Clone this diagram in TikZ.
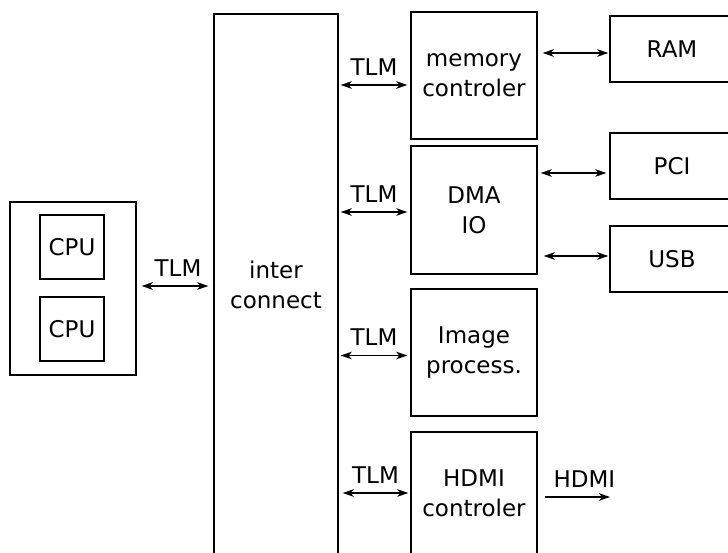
\documentclass[tikz,border=0pt]{standalone}
\usepackage{fontspec}
\setmainfont{DejaVu Sans}
\usetikzlibrary{arrows.meta,calc}
\begin{document}
\begin{tikzpicture}[x=1pt,y=-1pt,
  font=\fontsize{23}{30}\selectfont,
  box/.style={draw,line width=1.4pt,align=center,inner sep=0pt,
    minimum width=#1},
  box/.default=126pt,
  tip/.tip={Stealth[length=11pt,width=7.5pt,inset=3pt]},
  bi/.style={line width=1.3pt,tip-tip},
  uni/.style={line width=1.3pt,-tip},
  lbl/.style={above=9pt,inner sep=0pt,midway}]
\useasboundingbox (0,0) rectangle (728,553);
\clip (0,0) rectangle (728,553);

% processor cluster
\node[box,minimum height=173pt] (cpusys) at (73,288.5) {};
\node[box=64pt,minimum height=64pt] (cpu1) at (72,247) {CPU};
\node[box=64pt,minimum height=64pt] (cpu2) at (72,329) {CPU};

% interconnect bus
\node[box=124pt,minimum height=542pt] (ic) at (276,285) {inter\\connect};

% peripherals on the bus
\node[box,minimum height=127pt] (mem) at (474,75.5) {memory\\controler};
\node[box,minimum height=128pt] (dma) at (474,210) {DMA\\IO};
\node[box,minimum height=127pt] (img) at (474,352.5) {Image\\process.};
\node[box,minimum height=122pt] (hdmi) at (474,493) {HDMI\\controler};

% external devices
\node[box=124pt,minimum height=66pt] (ram) at (672,49) {RAM};
\node[box=124pt,minimum height=66pt] (pci) at (672,166) {PCI};
\node[box=124pt,minimum height=66pt] (usb) at (672,259) {USB};

% TLM links
\draw[bi] ($(cpusys.east)+(5,-2.5)$) -- node[lbl,xshift=3pt]{TLM}
  ($(cpusys.east-|ic.west)+(-5,-2.5)$);
\draw[bi] ($(ic.east|-mem.west)+(2,9.5)$) -- node[lbl]{TLM} ($(mem.west)+(-3,9.5)$);
\draw[bi] ($(ic.east|-dma.west)+(2,2)$) -- node[lbl]{TLM} ($(dma.west)+(-3,2)$);
\draw[bi] ($(ic.east|-img.west)+(2,3)$) -- node[lbl]{TLM} ($(img.west)+(-3,3)$);
\draw[bi] ($(ic.east|-hdmi.west)+(4,0)$) -- node[lbl]{TLM} ($(hdmi.west)+(-2,0)$);

% device links
\draw[bi] ($(mem.east|-ram.west)+(5,4)$) -- ($(ram.west)+(-1,4)$);
\draw[bi] ($(dma.east|-pci.west)+(3,7)$) -- ($(pci.west)+(-3,7)$);
\draw[bi] ($(dma.east|-usb.west)+(6,-3)$) -- ($(usb.west)+(-1,-3)$);

% video output
\coordinate (hdmiout) at (610,497);
\draw[uni] ($(hdmi.east)+(7,4)$) -- node[lbl,xshift=7pt]{HDMI} (hdmiout);
\end{tikzpicture}
\end{document}
